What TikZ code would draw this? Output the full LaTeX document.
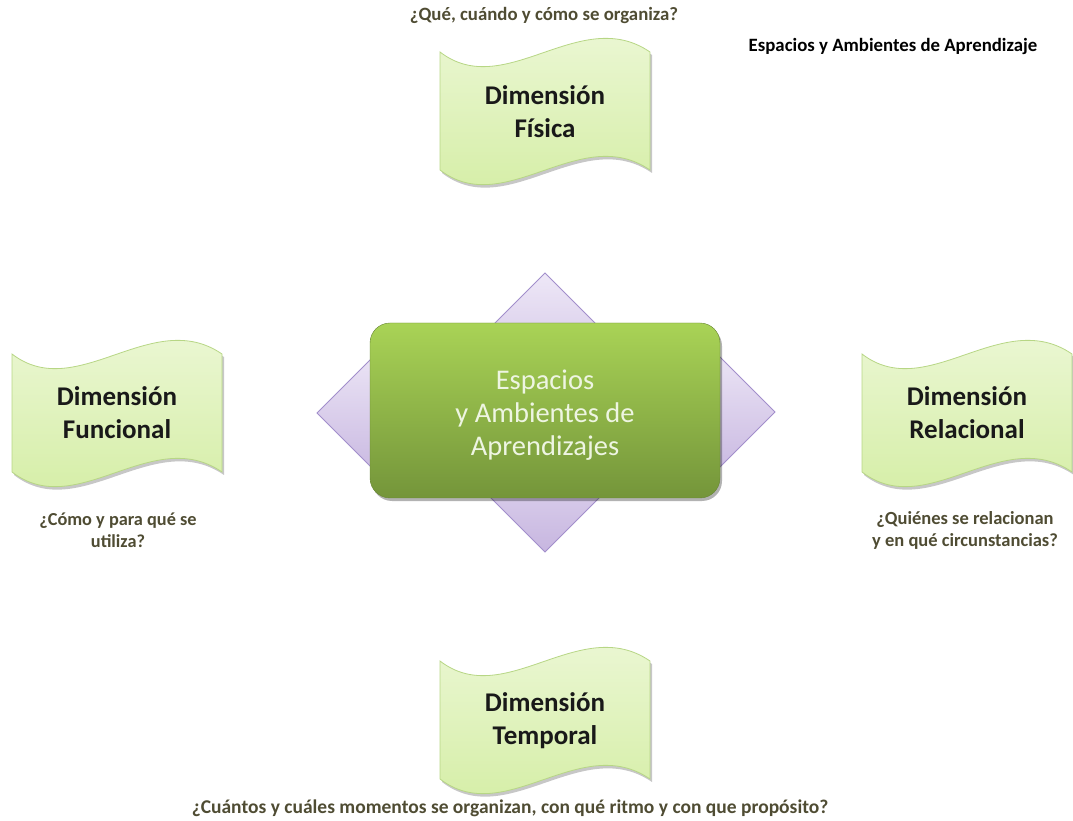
\documentclass[tikz,border=0pt]{standalone}
\usepackage{fontspec}
\setmainfont{Carlito}
\usetikzlibrary{shadows}
\definecolor{waveTop}{HTML}{EEF8DA}
\definecolor{waveBot}{HTML}{D2EDA0}
\definecolor{waveLine}{HTML}{B7D685}
\definecolor{rectTop}{HTML}{A9D356}
\definecolor{rectBot}{HTML}{74953A}
\definecolor{diaTop}{HTML}{EEE8F7}
\definecolor{diaBot}{HTML}{C7B6E0}
\definecolor{diaLine}{HTML}{A28ECB}
\definecolor{qcol}{HTML}{4F4C33}
\definecolor{ctext}{HTML}{EEF5E2}
\tikzset{
  wavebox/.style={draw=waveLine, line width=0.8pt, top color=waveTop, bottom color=waveBot,
    drop shadow={shadow xshift=2pt, shadow yshift=-3pt, opacity=0.22, fill=black}},
  dimtext/.style={font=\fontsize{27}{33}\selectfont\bfseries, align=center, text=black!90},
  diabox/.style={draw=diaLine, line width=0.8pt, top color=diaTop, bottom color=diaBot},
  qtext/.style={font=\fontsize{18.8}{22}\selectfont\bfseries, align=center, text=qcol},
  centerbox/.style={rounded corners=20pt, minimum width=350pt, minimum height=175pt,
    top color=rectTop, bottom color=rectBot, draw=rectBot!90!black, line width=0.4pt,
    drop shadow={shadow xshift=2pt, shadow yshift=-3pt, opacity=0.3, fill=black}},
  centertext/.style={font=\fontsize{28.5}{33}\selectfont, text=ctext, align=center}
}
\newcommand{\wavesh}[1]{%
  \path[wavebox, shift={#1}] (0,0) .. controls (65,-50) and (140,48) .. (210,0)
    -- (210,-118) .. controls (140,-70) and (65,-168) .. (0,-118) -- cycle;}
\begin{document}
\begin{tikzpicture}[x=1pt,y=1pt]
\useasboundingbox (0,0) rectangle (1073,820);
% purple diamonds
\path[diabox] (545,547) -- (615,477) -- (545,407) -- (475,477) -- cycle;
\path[diabox] (545,268) -- (615,338) -- (545,408) -- (475,338) -- cycle;
\path[diabox] (317,407) -- (386,476) -- (455,407) -- (386,338) -- cycle;
\path[diabox] (775,408) -- (706,477) -- (637,408) -- (706,339) -- cycle;
% central box
\node[centerbox] (center) at (545,409.5) {};
\node[centertext] (centerlabel) at (545,405) {Espacios\\y Ambientes de\\Aprendizajes};
% waves
\wavesh{(440,768)}
\wavesh{(12,466)}
\wavesh{(862,466)}
\wavesh{(440,159)}
\node[dimtext] (fisica) at (545,708) {Dimensión\\Física};
\node[dimtext] (funcional) at (117,407) {Dimensión\\Funcional};
\node[dimtext] (relacional) at (967,407) {Dimensión\\Relacional};
\node[dimtext] (temporal) at (545,99) {Dimensión\\Temporal};
% texts
\node[qtext] (qfisica) at (544,804) {¿Qué, cuándo y cómo se organiza?};
\node[font=\fontsize{18.8}{20}\selectfont\bfseries, text=black] (title) at (893,774) {Espacios y Ambientes de Aprendizaje};
\node[qtext, font=\fontsize{18.3}{22}\selectfont\bfseries] (qfuncional) at (118,290) {¿Cómo y para qué se\\utiliza?};
\node[qtext, font=\fontsize{18.5}{22}\selectfont\bfseries] (qrelacional) at (965,290) {¿Quiénes se relacionan\\y en qué circunstancias?};
\node[qtext, font=\fontsize{19.5}{22}\selectfont\bfseries] (qtemporal) at (510,12) {¿Cuántos y cuáles momentos se organizan, con qué ritmo y con que propósito?};
\end{tikzpicture}
\end{document}
